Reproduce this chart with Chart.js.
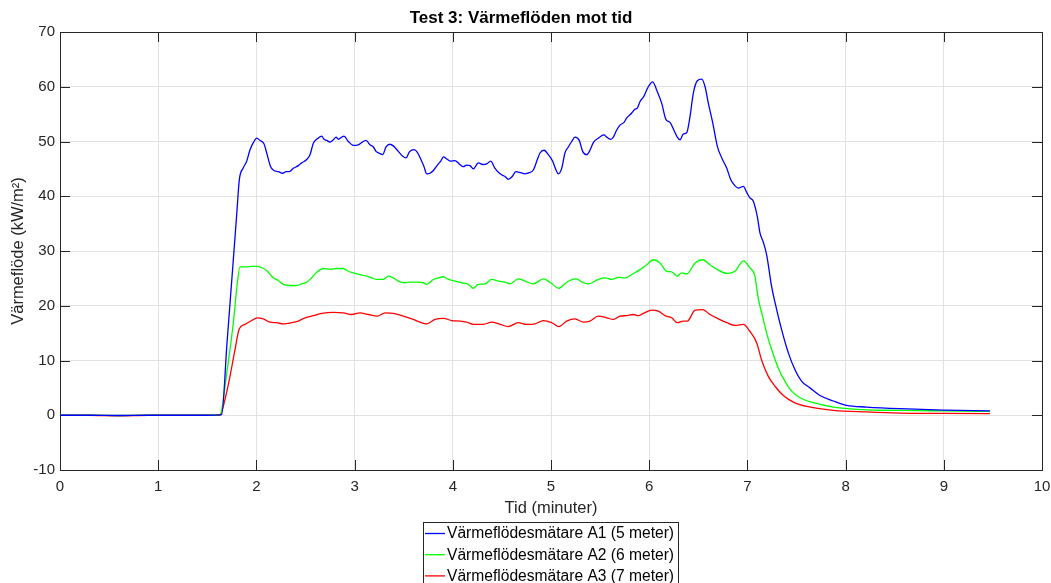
<!DOCTYPE html>
<html lang="sv">
<head>
<meta charset="utf-8">
<title>Test 3: Värmeflöden mot tid</title>
<script src="https://cdn.jsdelivr.net/npm/chart.js@4.4.1/dist/chart.umd.min.js"></script>
<style>
  html, body { margin: 0; padding: 0; background: #ffffff; }
  #wrap { width: 1051px; height: 583px; position: relative; }
  canvas { display: block; }
</style>
</head>
<body>
<div id="wrap"><canvas id="chart" width="1051" height="583"></canvas></div>
<script>
// Tick values (minutes on x, kW/m² on y)
const xTickValues = [0, 1, 2, 3, 4, 5, 6, 7, 8, 9, 10];
const yTickValues = [-10, 0, 10, 20, 30, 40, 50, 60, 70];

// Series labels and colours
const seriesLabels = [
  'Värmeflödesmätare A1 (5 meter)',
  'Värmeflödesmätare A2 (6 meter)',
  'Värmeflödesmätare A3 (7 meter)'
];
const seriesColors = ['#0000ff', '#00ff00', '#ff0000'];

// A1 (5 m): time in minutes, heat flux in kW/m²
const timeA1 = [0, 0.3, 0.6, 0.9, 1.2, 1.5, 1.646, 1.70, 1.765, 1.80, 1.826, 1.867, 1.901, 1.935, 1.969, 2.003, 2.037, 2.077, 2.105, 2.145, 2.179, 2.223, 2.268, 2.301, 2.335, 2.376, 2.427, 2.461, 2.512, 2.546, 2.580, 2.614, 2.665, 2.688, 2.716, 2.749, 2.783, 2.811, 2.834, 2.869, 2.892, 2.936, 2.987, 3.038, 3.072, 3.116, 3.157, 3.191, 3.218, 3.259, 3.286, 3.320, 3.361, 3.394, 3.445, 3.490, 3.524, 3.558, 3.605, 3.639, 3.673, 3.707, 3.734, 3.768, 3.802, 3.843, 3.877, 3.904, 3.938, 3.979, 4.022, 4.066, 4.107, 4.141, 4.175, 4.209, 4.260, 4.304, 4.345, 4.386, 4.430, 4.481, 4.532, 4.565, 4.600, 4.643, 4.691, 4.735, 4.779, 4.820, 4.861, 4.888, 4.929, 4.973, 5.017, 5.051, 5.074, 5.109, 5.142, 5.176, 5.211, 5.244, 5.288, 5.322, 5.363, 5.397, 5.431, 5.482, 5.540, 5.567, 5.608, 5.635, 5.669, 5.703, 5.744, 5.771, 5.822, 5.855, 5.879, 5.907, 5.947, 5.991, 6.036, 6.076, 6.127, 6.171, 6.212, 6.253, 6.286, 6.314, 6.348, 6.382, 6.416, 6.449, 6.490, 6.535, 6.569, 6.602, 6.647, 6.694, 6.739, 6.790, 6.831, 6.874, 6.908, 6.959, 6.993, 7.026, 7.060, 7.101, 7.128, 7.162, 7.196, 7.247, 7.298, 7.349, 7.417, 7.485, 7.553, 7.637, 7.739, 7.875, 8.010, 8.214, 8.554, 9.0, 9.47];
const flowA1 = [0, 0, -0.05, 0, 0, 0, 0.1, 13.0, 28.4, 36.8, 43.0, 45.2, 46.4, 48.5, 49.8, 50.6, 50.2, 49.6, 47.9, 45.4, 44.7, 44.5, 44.2, 44.5, 44.5, 45.1, 45.6, 46.1, 46.7, 47.6, 49.7, 50.4, 51.0, 50.4, 50.2, 49.9, 50.3, 50.8, 50.4, 50.8, 51.0, 50.0, 49.3, 49.4, 49.8, 50.2, 49.4, 49.0, 48.2, 47.8, 47.6, 49.0, 49.5, 49.2, 48.2, 47.3, 47.0, 48.1, 48.5, 48.0, 46.8, 45.4, 44.1, 44.2, 44.7, 45.7, 46.4, 47.2, 46.8, 46.4, 46.5, 45.9, 45.4, 45.7, 45.6, 45.0, 46.1, 45.8, 45.9, 46.4, 45.1, 44.1, 43.6, 43.1, 43.5, 44.5, 44.3, 44.1, 44.3, 44.8, 46.7, 47.9, 48.4, 47.6, 46.4, 44.8, 44.1, 45.1, 47.9, 49.0, 50.0, 50.8, 50.2, 48.2, 47.6, 48.4, 49.8, 50.6, 51.2, 50.8, 50.4, 50.8, 52.1, 53.0, 53.5, 54.3, 55.2, 55.9, 56.1, 57.3, 58.3, 60.0, 60.9, 59.4, 57.0, 54.0, 53.5, 52.0, 50.8, 50.3, 51.4, 51.6, 54.6, 58.8, 61.1, 61.4, 60.0, 57.0, 53.4, 49.1, 47.0, 45.1, 43.0, 41.9, 41.5, 41.8, 40.7, 39.7, 39.1, 36.3, 33.3, 31.6, 29.3, 23.5, 19.3, 15.6, 11.4, 8.3, 6.2, 5.0, 3.6, 2.6, 1.8, 1.5, 1.2, 0.95, 0.8];

// A2 (6 m)
const timeA2 = [0, 0.3, 0.6, 0.9, 1.2, 1.5, 1.629, 1.698, 1.765, 1.806, 1.833, 1.901, 1.952, 2.009, 2.064, 2.111, 2.172, 2.223, 2.274, 2.342, 2.410, 2.461, 2.512, 2.563, 2.614, 2.682, 2.749, 2.817, 2.885, 2.936, 2.987, 3.055, 3.123, 3.174, 3.225, 3.293, 3.344, 3.394, 3.445, 3.513, 3.564, 3.632, 3.700, 3.734, 3.802, 3.853, 3.904, 3.955, 4.022, 4.090, 4.158, 4.209, 4.260, 4.328, 4.396, 4.464, 4.532, 4.582, 4.667, 4.735, 4.820, 4.922, 4.990, 5.081, 5.160, 5.255, 5.329, 5.380, 5.482, 5.550, 5.618, 5.686, 5.754, 5.839, 5.907, 5.975, 6.042, 6.110, 6.178, 6.229, 6.286, 6.331, 6.382, 6.467, 6.545, 6.619, 6.704, 6.790, 6.874, 6.959, 7.026, 7.077, 7.100, 7.128, 7.146, 7.196, 7.247, 7.315, 7.383, 7.451, 7.536, 7.672, 7.875, 8.214, 8.554, 9.0, 9.47];
const flowA2 = [0, 0, -0.05, 0, 0, 0, 0.1, 7.7, 16.9, 24.2, 27.1, 27.1, 27.2, 27.2, 26.9, 26.3, 25.1, 24.6, 23.9, 23.7, 23.7, 24.0, 24.3, 25.1, 26.1, 26.8, 26.7, 26.8, 26.8, 26.3, 26.0, 25.7, 25.4, 25.1, 24.8, 24.8, 25.4, 25.1, 24.5, 24.2, 24.3, 24.3, 24.2, 23.9, 24.8, 25.1, 25.3, 24.8, 24.5, 24.2, 23.9, 23.2, 23.9, 24.0, 24.8, 24.5, 24.3, 24.0, 24.9, 24.5, 24.0, 24.9, 24.3, 23.2, 24.3, 24.9, 24.2, 24.0, 24.8, 25.1, 24.8, 25.2, 25.1, 25.9, 26.6, 27.5, 28.4, 27.8, 26.3, 26.2, 25.4, 26.0, 25.8, 27.8, 28.4, 27.5, 26.5, 25.9, 26.3, 28.2, 26.9, 25.4, 22.5, 19.9, 18.7, 15.0, 12.0, 8.6, 6.2, 4.4, 3.2, 2.3, 1.5, 1.0, 0.9, 0.8, 0.7];

// A3 (7 m)
const timeA3 = [0, 0.3, 0.6, 0.9, 1.2, 1.5, 1.629, 1.680, 1.731, 1.782, 1.826, 1.884, 1.952, 2.009, 2.070, 2.138, 2.206, 2.274, 2.359, 2.427, 2.495, 2.580, 2.665, 2.783, 2.885, 2.970, 3.055, 3.140, 3.232, 3.310, 3.394, 3.496, 3.598, 3.666, 3.734, 3.819, 3.904, 3.989, 4.073, 4.141, 4.209, 4.311, 4.396, 4.481, 4.565, 4.667, 4.752, 4.837, 4.922, 5.007, 5.081, 5.160, 5.244, 5.329, 5.397, 5.482, 5.567, 5.635, 5.703, 5.771, 5.839, 5.889, 5.941, 6.026, 6.093, 6.161, 6.229, 6.286, 6.348, 6.388, 6.467, 6.545, 6.619, 6.704, 6.790, 6.874, 6.959, 7.026, 7.095, 7.146, 7.213, 7.281, 7.366, 7.468, 7.604, 7.875, 8.214, 8.554, 9.0, 9.47];
const flowA3 = [0, 0, -0.1, 0, 0, 0, 0, 2.9, 7.1, 12.0, 15.8, 16.6, 17.3, 17.8, 17.6, 17.0, 16.9, 16.7, 16.9, 17.2, 17.8, 18.2, 18.6, 18.8, 18.7, 18.4, 18.7, 18.4, 18.1, 18.7, 18.6, 18.1, 17.5, 17.0, 16.7, 17.5, 17.7, 17.3, 17.2, 17.0, 16.6, 16.6, 17.0, 16.6, 16.2, 16.9, 16.6, 16.7, 17.3, 16.9, 16.2, 17.2, 17.6, 17.0, 17.2, 18.1, 17.8, 17.5, 18.1, 18.2, 18.4, 18.2, 18.6, 19.2, 19.0, 18.2, 17.8, 16.9, 17.2, 17.2, 19.2, 19.3, 18.4, 17.6, 16.9, 16.4, 16.6, 15.3, 13.2, 10.0, 7.1, 5.3, 3.6, 2.4, 1.6, 0.9, 0.6, 0.4, 0.35, 0.3];

const FONT = "'Liberation Sans', Arial, Helvetica, sans-serif";
const AXIS_COLOR = '#262626';

function toPoints(times, values) {
  return times.map((t, i) => ({ x: t, y: values[i] }));
}

// Box around the plot area with inward tick marks on all four sides
const boxAndTicks = {
  id: 'boxAndTicks',
  beforeDatasetsDraw(chart) {
    const { ctx, chartArea: a, scales } = chart;
    const len = 10;
    ctx.save();
    ctx.strokeStyle = AXIS_COLOR;
    ctx.lineWidth = 1;
    ctx.beginPath();
    xTickValues.forEach(v => {
      const x = Math.round(scales.x.getPixelForValue(v)) + 0.5;
      ctx.moveTo(x, a.bottom); ctx.lineTo(x, a.bottom - len);
      ctx.moveTo(x, a.top); ctx.lineTo(x, a.top + len);
    });
    yTickValues.forEach(v => {
      const y = Math.round(scales.y.getPixelForValue(v)) + 0.5;
      ctx.moveTo(a.left, y); ctx.lineTo(a.left + len, y);
      ctx.moveTo(a.right, y); ctx.lineTo(a.right - len, y);
    });
    ctx.stroke();
    ctx.strokeRect(Math.round(a.left) + 0.5, Math.round(a.top) + 0.5,
                   Math.round(a.right - a.left), Math.round(a.bottom - a.top));
    ctx.restore();
  }
};

// Boxed legend stacked vertically below the x-axis title
const boxedLegend = {
  id: 'boxedLegend',
  afterDraw(chart) {
    const { ctx } = chart;
    const boxLeft = 423.5, boxTop = 522.5, boxWidth = 255, rowH = 21.2;
    ctx.save();
    ctx.fillStyle = '#ffffff';
    ctx.fillRect(boxLeft, boxTop, boxWidth, 80);
    ctx.strokeStyle = AXIS_COLOR;
    ctx.lineWidth = 1;
    ctx.strokeRect(boxLeft, boxTop, boxWidth, 80);
    ctx.font = "15.6px " + FONT;
    ctx.textBaseline = 'middle';
    ctx.textAlign = 'left';
    chart.data.datasets.forEach((ds, i) => {
      const y = boxTop + 11 + i * rowH;
      ctx.strokeStyle = ds.borderColor;
      ctx.lineWidth = 1.3;
      ctx.beginPath();
      ctx.moveTo(425, y); ctx.lineTo(445, y);
      ctx.stroke();
      ctx.fillStyle = '#000000';
      ctx.fillText(ds.label, 447, y + 0.5);
    });
    ctx.restore();
  }
};

const datasets = [
  toPoints(timeA1, flowA1),
  toPoints(timeA2, flowA2),
  toPoints(timeA3, flowA3)
].map((pts, i) => ({
  label: seriesLabels[i],
  data: pts,
  borderColor: seriesColors[i],
  backgroundColor: seriesColors[i],
  borderWidth: 1.3,
  pointRadius: 0,
  cubicInterpolationMode: 'monotone',
  fill: false
}));

new Chart(document.getElementById('chart'), {
  type: 'line',
  data: { datasets },
  options: {
    responsive: false,
    animation: false,
    events: [],
    layout: { padding: { top: 0, left: 0, right: 9, bottom: 65 } },
    plugins: {
      legend: { display: false },
      tooltip: { enabled: false },
      title: {
        display: true,
        text: 'Test 3: Värmeflöden mot tid',
        color: '#000000',
        font: { family: FONT, size: 17, weight: 'bold', lineHeight: 1.2 },
        padding: { top: 8, bottom: 3.6 }
      }
    },
    scales: {
      x: {
        type: 'linear',
        min: xTickValues[0],
        max: xTickValues[xTickValues.length - 1],
        afterFit(scale) {
          scale.height = 48;
          scale.paddingLeft = 0;
          scale.paddingRight = 0;
        },
        afterBuildTicks(scale) { scale.ticks = xTickValues.map(v => ({ value: v })); },
        ticks: {
          color: AXIS_COLOR,
          font: { family: FONT, size: 15 },
          padding: 8,
          maxRotation: 0
        },
        grid: { color: '#e2e2e2', lineWidth: 1, drawTicks: false },
        border: { display: false },
        title: {
          display: true,
          text: 'Tid (minuter)',
          color: AXIS_COLOR,
          font: { family: FONT, size: 16.5, lineHeight: 1.2 },
          padding: { top: 1, bottom: 0 }
        }
      },
      y: {
        type: 'linear',
        min: yTickValues[0],
        max: yTickValues[yTickValues.length - 1],
        afterFit(scale) {
          scale.width = 60;
          scale.paddingTop = 0;
          scale.paddingBottom = 0;
        },
        afterBuildTicks(scale) { scale.ticks = yTickValues.map(v => ({ value: v })); },
        ticks: {
          color: AXIS_COLOR,
          font: { family: FONT, size: 15 },
          padding: 5
        },
        grid: { color: '#e2e2e2', lineWidth: 1, drawTicks: false },
        border: { display: false },
        title: {
          display: true,
          text: 'Värmeflöde (kW/m²)',
          color: AXIS_COLOR,
          font: { family: FONT, size: 16.5, lineHeight: 1.2 },
          padding: { top: 9, bottom: 0 }
        }
      }
    }
  },
  plugins: [boxAndTicks, boxedLegend]
});
</script>
</body>
</html>
